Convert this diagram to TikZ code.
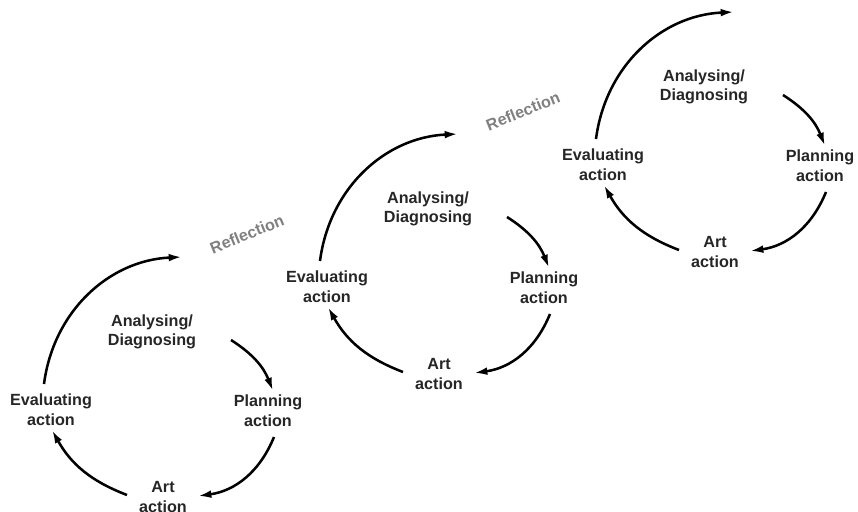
\documentclass[tikz,border=0pt]{standalone}
\usepackage{fontspec}
\setmainfont{Liberation Sans}
\usetikzlibrary{arrows.meta}

\begin{document}
\begin{tikzpicture}[x=0.025cm,y=-0.025cm,
  lbl/.style={font=\bfseries\fontsize{11.5}{14}\selectfont, text=black!85, align=center, inner sep=1pt},
  refl/.style={font=\bfseries\fontsize{11.5}{14}\selectfont, text=black!50, rotate=22},
  cyc/.style={line width=1.8pt, -{Latex[length=9.5pt,width=5.5pt]}}]
  \useasboundingbox (0,0) rectangle (858,512);

  % one turn of the spiral per shift, art action sits at the origin
  \foreach \dx/\dy/\i in {163/497/1, 439/374/2, 715/252/3} {
    \begin{scope}[shift={(\dx,\dy)}]
      \node[lbl] (ana\i) at (-11,-165) {Analysing/\\Diagnosing};
      \node[lbl] (pla\i) at (105,-86) {Planning\\action};
      \node[lbl] (art\i) at (0,0) {Art\\action};
      \node[lbl] (eva\i) at (-112,-87) {Evaluating\\action};
      \coordinate (top\i) at (19,-240);
      \ifnum\i<3
        \node[refl] (ref\i) at (84,-263) {Reflection};
      \fi

      \draw[cyc] ([shift={(79,8)}]ana\i.center) to[bend left=18] ([shift={(5,-20)}]pla\i.center);
      \draw[cyc] ([shift={(6,26)}]pla\i.center) to[bend left=30] ([shift={(35,-1)}]art\i.center);
      \draw[cyc] ([shift={(-36,-2)}]art\i.center) to[bend left=20] ([shift={(1,20)}]eva\i.center);
      \draw[cyc] ([shift={(-7,-26)}]eva\i.center) to[bend left=40] (top\i);
    \end{scope}
  }
\end{tikzpicture}
\end{document}
